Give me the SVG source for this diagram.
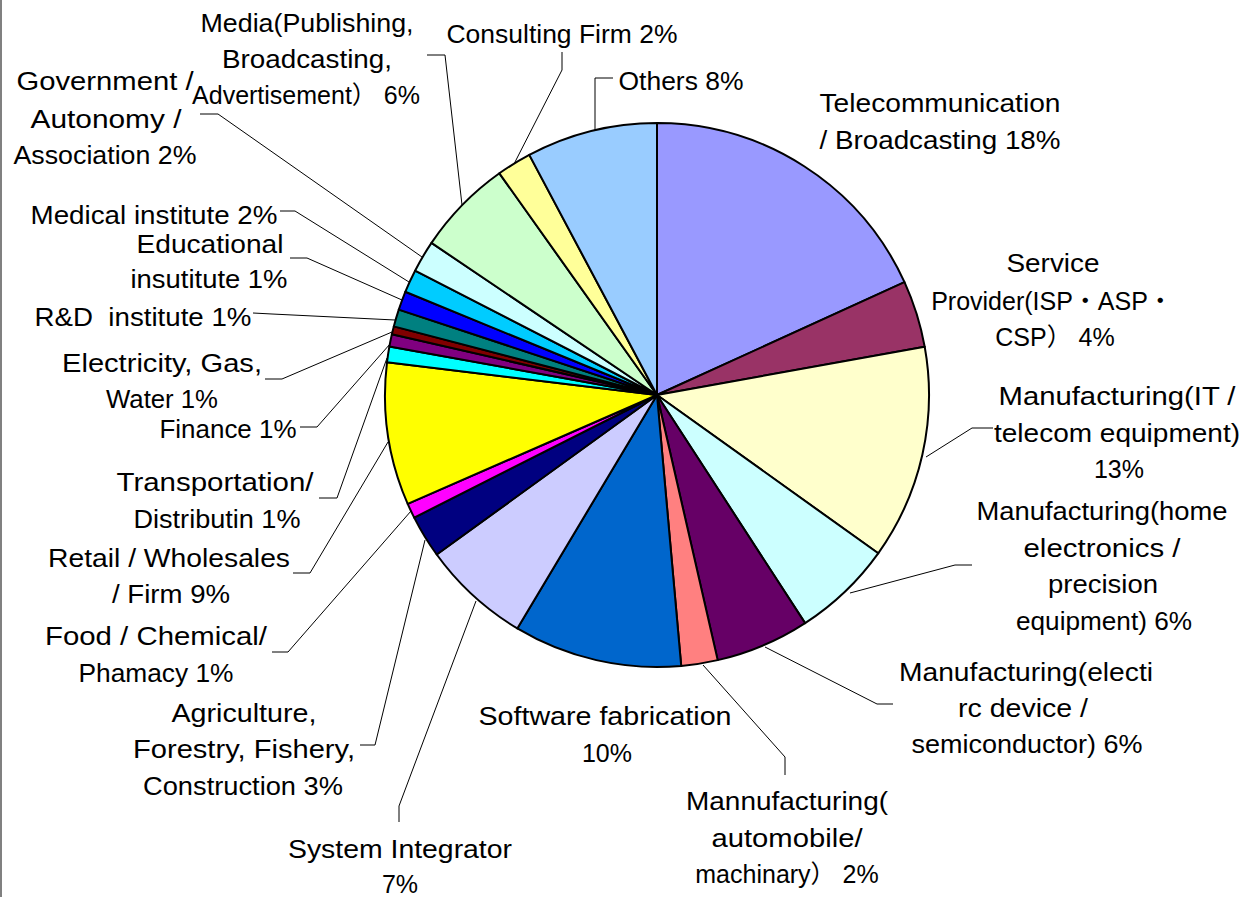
<svg xmlns="http://www.w3.org/2000/svg" width="1247" height="897" viewBox="0 0 1247 897">
<style>
.s{stroke:#000;stroke-width:2;stroke-linejoin:round}
.t{font-family:"Liberation Sans","Noto Sans CJK JP",sans-serif;font-size:25px;fill:#000;text-anchor:middle}
.l{fill:none;stroke:#000;stroke-width:1}
</style>
<rect x="0" y="0" width="1247" height="897" fill="#fff"/>
<rect x="0" y="0" width="2" height="897" fill="#808080"/>
<g id="slices">
<g id="telecom"><path class="s" fill="#9999FF" d="M657,395 L657,123 A272,272 0 0 1 904.5,282.2 Z"/></g>
<g id="service"><path class="s" fill="#993366" d="M657,395 L904.5,282.2 A272,272 0 0 1 924.7,346.8 Z"/></g>
<g id="mfg-it"><path class="s" fill="#FFFFCC" d="M657,395 L924.7,346.8 A272,272 0 0 1 878.2,553.3 Z"/></g>
<g id="mfg-home"><path class="s" fill="#CCFFFF" d="M657,395 L878.2,553.3 A272,272 0 0 1 805.1,623.1 Z"/></g>
<g id="mfg-electric"><path class="s" fill="#660066" d="M657,395 L805.1,623.1 A272,272 0 0 1 717.7,660.1 Z"/></g>
<g id="mfg-auto"><path class="s" fill="#FF8080" d="M657,395 L717.7,660.1 A272,272 0 0 1 681.2,665.9 Z"/></g>
<g id="software"><path class="s" fill="#0066CC" d="M657,395 L681.2,665.9 A272,272 0 0 1 517.3,628.4 Z"/></g>
<g id="si"><path class="s" fill="#CCCCFF" d="M657,395 L517.3,628.4 A272,272 0 0 1 436.7,554.5 Z"/></g>
<g id="agri"><path class="s" fill="#000080" d="M657,395 L436.7,554.5 A272,272 0 0 1 414.2,517.6 Z"/></g>
<g id="food"><path class="s" fill="#FF00FF" d="M657,395 L414.2,517.6 A272,272 0 0 1 407.7,503.9 Z"/></g>
<g id="retail"><path class="s" fill="#FFFF00" d="M657,395 L407.7,503.9 A272,272 0 0 1 387.0,362.3 Z"/></g>
<g id="transport"><path class="s" fill="#00FFFF" d="M657,395 L387.0,362.3 A272,272 0 0 1 389.4,346.4 Z"/></g>
<g id="finance"><path class="s" fill="#800080" d="M657,395 L389.4,346.4 A272,272 0 0 1 391.9,334.3 Z"/></g>
<g id="electricity"><path class="s" fill="#800000" d="M657,395 L391.9,334.3 A272,272 0 0 1 393.8,326.4 Z"/></g>
<g id="rnd"><path class="s" fill="#008080" d="M657,395 L393.8,326.4 A272,272 0 0 1 398.8,309.6 Z"/></g>
<g id="educational"><path class="s" fill="#0000FF" d="M657,395 L398.8,309.6 A272,272 0 0 1 405.3,291.8 Z"/></g>
<g id="medical"><path class="s" fill="#00CCFF" d="M657,395 L405.3,291.8 A272,272 0 0 1 415.1,270.7 Z"/></g>
<g id="government"><path class="s" fill="#CCFFFF" d="M657,395 L415.1,270.7 A272,272 0 0 1 431.5,242.9 Z"/></g>
<g id="media"><path class="s" fill="#CCFFCC" d="M657,395 L431.5,242.9 A272,272 0 0 1 499.4,173.3 Z"/></g>
<g id="consulting"><path class="s" fill="#FFFF99" d="M657,395 L499.4,173.3 A272,272 0 0 1 529.3,154.9 Z"/></g>
<g id="others"><path class="s" fill="#99CCFF" d="M657,395 L529.3,154.9 A272,272 0 0 1 657,123 Z"/></g>
</g>
<g id="connectors">
<polyline class="l" points="595,130 595,78 613,78"/>
<polyline class="l" points="514,164 562,70 562,52"/>
<polyline class="l" points="427,55 445,55 462,205"/>
<polyline class="l" points="200,114 218,114 422,257"/>
<polyline class="l" points="280,211 295,211 409,282"/>
<polyline class="l" points="290,258 307,258 402,300"/>
<polyline class="l" points="253,313 272,314 395,320"/>
<polyline class="l" points="265,379 282,379 392,332"/>
<polyline class="l" points="300,427 317,427 390,344"/>
<polyline class="l" points="319,498 337,498 387,358"/>
<polyline class="l" points="293,573 310,573 388,442"/>
<polyline class="l" points="272,652 288,652 411,511"/>
<polyline class="l" points="360,745 375,745 425,540"/>
<polyline class="l" points="399,822 399,806 476,601"/>
<polyline class="l" points="703,665 785,757 785,775"/>
<polyline class="l" points="765,647 877,704 893,704"/>
<polyline class="l" points="850,593 955,565 972,565"/>
<polyline class="l" points="926,457 972,428 993,428"/>
</g>
<g id="labels">
<g id="label-telecom"><text class="t" x="940" y="112" textLength="241" lengthAdjust="spacingAndGlyphs">Telecommunication</text><text class="t" x="940" y="149" textLength="241" lengthAdjust="spacingAndGlyphs">/ Broadcasting 18%</text></g>
<g id="label-service"><text class="t" x="1053" y="272" textLength="93" lengthAdjust="spacingAndGlyphs">Service</text><text class="t" x="1052" y="310">Provider(ISP・ASP・</text><text class="t" x="1055" y="346">CSP） 4%</text></g>
<g id="label-it"><text class="t" x="1117" y="405" textLength="237" lengthAdjust="spacingAndGlyphs">Manufacturing(IT /</text><text class="t" x="1117" y="442" textLength="246" lengthAdjust="spacingAndGlyphs">telecom equipment)</text><text class="t" x="1119" y="478">13%</text></g>
<g id="label-home"><text class="t" x="1102" y="520" textLength="251" lengthAdjust="spacingAndGlyphs">Manufacturing(home</text><text class="t" x="1102" y="557" textLength="157" lengthAdjust="spacingAndGlyphs">electronics /</text><text class="t" x="1103" y="593" textLength="110" lengthAdjust="spacingAndGlyphs">precision</text><text class="t" x="1104" y="630" textLength="176" lengthAdjust="spacingAndGlyphs">equipment) 6%</text></g>
<g id="label-electric"><text class="t" x="1026" y="681" textLength="254" lengthAdjust="spacingAndGlyphs">Manufacturing(electi</text><text class="t" x="1023" y="717" textLength="130" lengthAdjust="spacingAndGlyphs">rc device /</text><text class="t" x="1027" y="753" textLength="231" lengthAdjust="spacingAndGlyphs">semiconductor) 6%</text></g>
<g id="label-auto"><text class="t" x="787" y="810" textLength="202" lengthAdjust="spacingAndGlyphs">Mannufacturing(</text><text class="t" x="787" y="847" textLength="151" lengthAdjust="spacingAndGlyphs">automobile/</text><text class="t" x="787" y="883">machinary） 2%</text></g>
<g id="label-software"><text class="t" x="605" y="725" textLength="253" lengthAdjust="spacingAndGlyphs">Software fabrication</text><text class="t" x="607" y="762">10%</text></g>
<g id="label-si"><text class="t" x="400" y="858" textLength="224" lengthAdjust="spacingAndGlyphs">System Integrator</text><text class="t" x="400" y="893">7%</text></g>
<g id="label-agri"><text class="t" x="244" y="722" textLength="145" lengthAdjust="spacingAndGlyphs">Agriculture,</text><text class="t" x="244" y="758" textLength="222" lengthAdjust="spacingAndGlyphs">Forestry, Fishery,</text><text class="t" x="243" y="795" textLength="200" lengthAdjust="spacingAndGlyphs">Construction 3%</text></g>
<g id="label-food"><text class="t" x="156" y="645" textLength="222" lengthAdjust="spacingAndGlyphs">Food / Chemical/</text><text class="t" x="156" y="682" textLength="155" lengthAdjust="spacingAndGlyphs">Phamacy 1%</text></g>
<g id="label-retail"><text class="t" x="169" y="567" textLength="242" lengthAdjust="spacingAndGlyphs">Retail / Wholesales</text><text class="t" x="171" y="603" textLength="118" lengthAdjust="spacingAndGlyphs">/ Firm 9%</text></g>
<g id="label-transport"><text class="t" x="215" y="491" textLength="197" lengthAdjust="spacingAndGlyphs">Transportation/</text><text class="t" x="217" y="528" textLength="167" lengthAdjust="spacingAndGlyphs">Distributin 1%</text></g>
<g id="label-finance"><text class="t" x="228" y="438" textLength="137" lengthAdjust="spacingAndGlyphs">Finance 1%</text></g>
<g id="label-electricity"><text class="t" x="162" y="372" textLength="200" lengthAdjust="spacingAndGlyphs">Electricity, Gas,</text><text class="t" x="162" y="408" textLength="112" lengthAdjust="spacingAndGlyphs">Water 1%</text></g>
<g id="label-rnd"><text class="t" x="143" y="326" textLength="217" lengthAdjust="spacingAndGlyphs" xml:space="preserve">R&amp;D  institute 1%</text></g>
<g id="label-educational"><text class="t" x="210" y="253" textLength="147" lengthAdjust="spacingAndGlyphs">Educational</text><text class="t" x="209" y="288" textLength="157" lengthAdjust="spacingAndGlyphs">insutitute 1%</text></g>
<g id="label-medical"><text class="t" x="154" y="224" textLength="247" lengthAdjust="spacingAndGlyphs">Medical institute 2%</text></g>
<g id="label-government"><text class="t" x="105" y="90" textLength="177" lengthAdjust="spacingAndGlyphs">Government /</text><text class="t" x="106" y="128" textLength="151" lengthAdjust="spacingAndGlyphs">Autonomy /</text><text class="t" x="105" y="164" textLength="183" lengthAdjust="spacingAndGlyphs">Association 2%</text></g>
<g id="label-media"><text class="t" x="307" y="32" textLength="213" lengthAdjust="spacingAndGlyphs">Media(Publishing,</text><text class="t" x="307" y="68" textLength="170" lengthAdjust="spacingAndGlyphs">Broadcasting,</text><text class="t" x="306" y="104">Advertisement） 6%</text></g>
<g id="label-consulting"><text class="t" x="562" y="43" textLength="231" lengthAdjust="spacingAndGlyphs">Consulting Firm 2%</text></g>
<g id="label-others"><text class="t" x="681" y="90" textLength="125" lengthAdjust="spacingAndGlyphs">Others 8%</text></g>
</g>
</svg>
